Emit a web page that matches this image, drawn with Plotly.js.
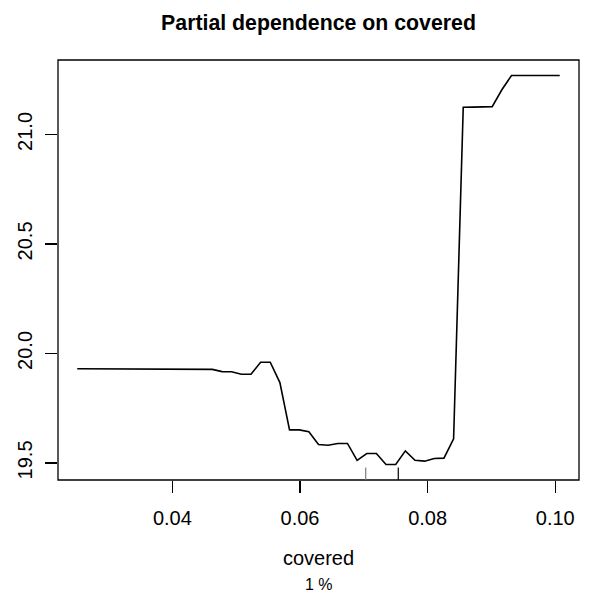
<!DOCTYPE html>
<html>
<head>
<meta charset="utf-8">
<script src="https://cdn.plot.ly/plotly-3.0.1.min.js"></script>
<style>html,body{margin:0;padding:0;background:#fff;}#chart{width:590px;height:595px;}</style>
</head>
<body>
<div id="chart"></div>
<script>
// Grid of 'covered' values (x) and partial dependence (y)
var coveredX = [0.02510,0.02661,0.02812,0.02964,0.03115,0.03266,0.03417,0.03568,0.03720,0.03871,
  0.04022,0.04173,0.04324,0.04476,0.04627,0.04778,0.04929,0.05080,0.05232,0.05383,
  0.05534,0.05685,0.05836,0.05988,0.06139,0.06290,0.06441,0.06592,0.06744,0.06895,
  0.07046,0.07197,0.07348,0.07500,0.07651,0.07802,0.07953,0.08104,0.08256,0.08407,
  0.08558,0.08709,0.08860,0.09012,0.09163,0.09314,0.09465,0.09616,0.09768,0.09919,0.10070];
var partialY = [19.930,19.930,19.930,19.930,19.930,19.930,19.930,19.927,19.927,19.927,
  19.927,19.927,19.927,19.927,19.927,19.917,19.916,19.905,19.905,19.960,
  19.960,19.867,19.651,19.651,19.642,19.584,19.581,19.589,19.589,19.512,
  19.543,19.543,19.493,19.493,19.555,19.512,19.508,19.520,19.522,19.610,
  21.124,21.125,21.126,21.127,21.204,21.269,21.269,21.269,21.269,21.269,21.269];
// Rug (deciles of the observed variable)
var rugX = [0.0703, 0.0754];
var xTickVals = [0.04, 0.06, 0.08, 0.10];
var xTickText = ['0.04', '0.06', '0.08', '0.10'];
var yTickVals = [19.5, 20.0, 20.5, 21.0];
var yTickText = ['19.5', '20.0', '20.5', '21.0'];
var titleText = 'Partial dependence on covered';
var xLabel = 'covered';
var subLabel = '1 %';

var FONT = 'Liberation Sans, Arial, Helvetica, sans-serif';
var rugColors = ['#7a7a7a', '#000000'];

var shapes = [{
  type: 'rect', xref: 'paper', yref: 'paper', x0: 0, x1: 1, y0: 0, y1: 1,
  line: {color: '#000', width: 1.3}, fillcolor: 'rgba(0,0,0,0)'
}];
rugX.forEach(function (v, i) {
  shapes.push({type: 'line', xref: 'x', yref: 'paper', x0: v, x1: v, y0: 0, y1: 0.03,
    line: {color: rugColors[i % rugColors.length], width: 1.2}});
});

var trace = {
  x: coveredX, y: partialY, type: 'scatter', mode: 'lines',
  line: {color: '#000', width: 1.6}, hoverinfo: 'skip'
};

var layout = {
  width: 590, height: 595, autosize: false,
  paper_bgcolor: '#fff', plot_bgcolor: '#fff',
  margin: {l: 58, r: 11, t: 60, b: 115, pad: 0},
  showlegend: false,
  font: {family: FONT, color: '#000', size: 20},
  title: {text: '<b>' + titleText + '</b>', font: {family: FONT, size: 21.3, color: '#000'},
    xref: 'paper', x: 0.5, xanchor: 'center', yref: 'container', y: 1 - 23 / 595, yanchor: 'middle'},
  xaxis: {
    range: [0.02208, 0.10372], tickmode: 'array', tickvals: xTickVals, ticktext: xTickText,
    ticks: 'outside', ticklen: 12, tickwidth: 1.2, tickcolor: '#000', ticklabelstandoff: 8,
    showgrid: false, zeroline: false, showline: false,
    tickfont: {family: FONT, size: 20, color: '#000'},
    title: {text: xLabel, font: {family: FONT, size: 20, color: '#000'}, standoff: 22}
  },
  yaxis: {
    range: [19.422, 21.340], tickmode: 'array', tickvals: yTickVals, ticktext: yTickText,
    ticks: 'outside', ticklen: 12, tickwidth: 1.2, tickcolor: '#000', tickangle: -90,
    ticklabelstandoff: 5,
    showgrid: false, zeroline: false, showline: false,
    tickfont: {family: FONT, size: 20, color: '#000'}
  },
  shapes: shapes,
  annotations: [{
    text: subLabel, xref: 'paper', yref: 'paper', x: 0.5, y: 0,
    yshift: -(584 - 480), xanchor: 'center', yanchor: 'middle', showarrow: false,
    font: {family: FONT, size: 16, color: '#000'}
  }]
};

Plotly.newPlot('chart', [trace], layout, {displayModeBar: false, staticPlot: true});
</script>
</body>
</html>
